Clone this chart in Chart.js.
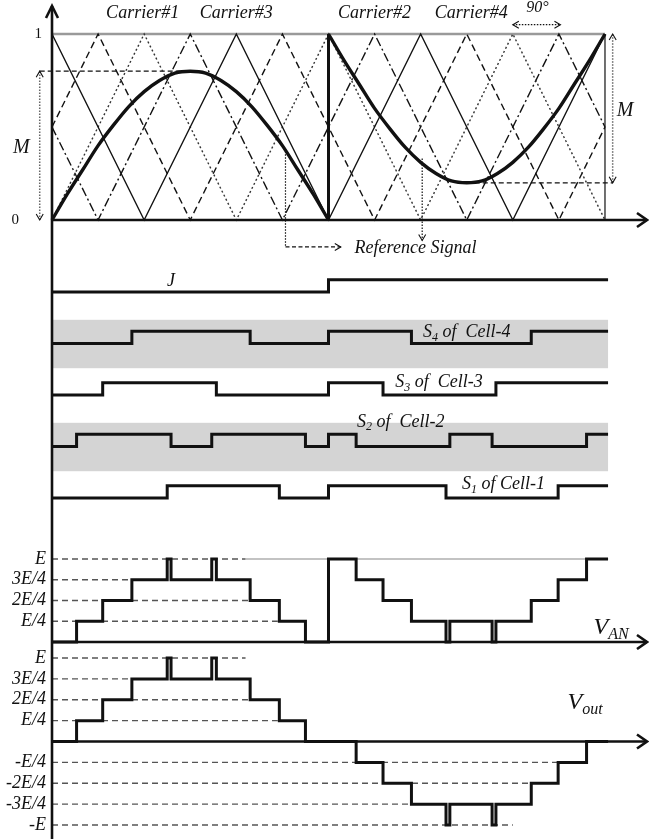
<!DOCTYPE html>
<html>
<head>
<meta charset="utf-8">
<script src="https://cdn.jsdelivr.net/npm/chart.js@4.4.1/dist/chart.umd.min.js"></script>
<style>
  html, body { margin: 0; padding: 0; background: #fff; }
  #wrap { position: relative; width: 649px; height: 839px; overflow: hidden; }
  .pane { position: absolute; left: 0; width: 649px; }
</style>
</head>
<body>
<div id="wrap">
  <div class="pane" style="top:0;height:260px"><canvas id="carriers"></canvas></div>
  <div class="pane" style="top:260px;height:260px"><canvas id="gates"></canvas></div>
  <div class="pane" style="top:520px;height:130px"><canvas id="van"></canvas></div>
  <div class="pane" style="top:650px;height:189px"><canvas id="vout"></canvas></div>
</div>
<script>
// ---- data (angles in degrees of the reference period) ----
const refPosAngles = [0,10,20,30,40,50,60,70,80,90,100,110,120,130,140,150,160,170,180];
const refPos = [0,.14,.27,.40,.51,.61,.69,.75,.79,.80,.79,.75,.69,.61,.51,.40,.27,.14,0];
const refNegAngles = [180,190,200,210,220,230,240,250,260,270,280,290,300,310,320,330,340,350,360];
const refNeg = [1,.86,.73,.60,.49,.39,.31,.25,.21,.20,.21,.25,.31,.39,.49,.60,.73,.86,1];

// triangle carriers, corner points [angle, value]
const carrier1 = [[0,0],[60,1],[120,0],[180,1],[240,0],[300,1],[360,0]];
const carrier2 = [[0,.5],[30,0],[90,1],[150,0],[210,1],[270,0],[330,1],[360,.5]];
const carrier3 = [[0,1],[60,0],[120,1],[180,0],[240,1],[300,0],[360,1]];
const carrier4 = [[0,.5],[30,1],[90,0],[150,1],[210,0],[270,1],[330,0],[360,.5]];

// switching edges (signal starts low, toggles at each edge)
const jEdges  = [180];
const s4Edges = [52,129,180,234,312];
const s3Edges = [33,107,180,215.5,289];
const s2Edges = [16,77.5,104,165,180,198,259,286.5,348];
const s1Edges = [75,148,180,256.5,329.5];

// output levels in quarters of E
const vanAngles = [0,16,33,52,75,77.5,104,107,129,148,165,180,198,215.5,234,256.5,259,286.5,289,312,329.5,348,362];
const vanLevels = [0,1,2,3,4,3,4,3,2,1,0,4,3,2,1,0,1,0,1,2,3,4,4];
const voutAngles = [0,16,33,52,75,77.5,104,107,129,148,165,198,215.5,234,256.5,259,286.5,289,312,329.5,348,362];
const voutLevels = [0,1,2,3,4,3,4,3,2,1,0,-1,-2,-3,-4,-3,-4,-3,-2,-1,0,0];

const vanTickLevels = [4,3,2,1];
const vanTickText = ['E','3E/4','2E/4','E/4'];
const vanGuideEnds = [126,53,128,147];
const voutTickLevels = [4,3,2,1,-1,-2,-3,-4];
const voutTickText = ['E','3E/4','2E/4','E/4','-E/4','-2E/4','-3E/4','-E'];
const voutGuideEnds = [126,53,128,147,345,310,234,300];

// ---- helpers ----
const X_END = 388;     // right edge of plot (arrow tips)
const SIG_END = 362;   // where switching traces stop
const GATE_AMP = 0.24;
const INK = '#111';
const SERIF = '"Liberation Serif", "DejaVu Serif", serif';

const pts = pairs => pairs.map(p => ({x: p[0], y: p[1]}));
const zip = (xs, ys) => xs.map((x, i) => ({x, y: ys[i]}));

function line(data, extra) {
  return Object.assign({
    data, borderColor: INK, borderWidth: 1.3, pointRadius: 0,
    fill: false, tension: 0, clip: false
  }, extra || {});
}

function gateSteps(edges, row) {
  const out = [{x: 0, y: row}];
  edges.forEach((e, i) => out.push({x: e, y: row - ((i + 1) % 2) * GATE_AMP}));
  out.push({x: SIG_END, y: out[out.length - 1].y});
  return out;
}

function drawRich(ctx, text, x, y, size, align, upright) {
  const style = upright ? '' : 'italic ';
  const main = style + size + 'px ' + SERIF;
  const small = style + Math.round(size * 0.66) + 'px ' + SERIF;
  const parts = [];
  text.split(/(_\{[^}]*\})/).forEach(s => {
    if (!s) return;
    if (s.startsWith('_{')) parts.push({t: s.slice(2, -1), sub: true});
    else parts.push({t: s, sub: false});
  });
  let w = 0;
  parts.forEach(p => { ctx.font = p.sub ? small : main; w += ctx.measureText(p.t).width; });
  let cx = align === 'left' ? x : align === 'right' ? x - w : x - w / 2;
  ctx.textAlign = 'left';
  ctx.textBaseline = 'middle';
  ctx.fillStyle = INK;
  parts.forEach(p => {
    ctx.font = p.sub ? small : main;
    ctx.fillText(p.t, cx, p.sub ? y + size * 0.3 : y);
    cx += ctx.measureText(p.t).width;
  });
}

function chevron(ctx, x, y, dir, len, half) {
  const d = {up: [0, -1], down: [0, 1], left: [-1, 0], right: [1, 0]}[dir];
  const px = -d[1], py = d[0];
  ctx.beginPath();
  ctx.moveTo(x - d[0] * len + px * half, y - d[1] * len + py * half);
  ctx.lineTo(x, y);
  ctx.lineTo(x - d[0] * len - px * half, y - d[1] * len - py * half);
  ctx.stroke();
}

function decor(cfg) {
  return {
    id: 'decor',
    beforeDatasetsDraw(chart) {
      const {ctx} = chart, xs = chart.scales.x, ys = chart.scales.y;
      (cfg.bands || []).forEach(b => {
        const y1 = ys.getPixelForValue(b[0]), y2 = ys.getPixelForValue(b[1]);
        const x1 = xs.getPixelForValue(0), x2 = xs.getPixelForValue(b[2]);
        ctx.fillStyle = '#d4d4d4';
        ctx.fillRect(x1, Math.min(y1, y2), x2 - x1, Math.abs(y2 - y1));
      });
    },
    afterDatasetsDraw(chart) {
      const {ctx} = chart, xs = chart.scales.x, ys = chart.scales.y;
      const x0 = xs.getPixelForValue(0);
      ctx.save();
      ctx.strokeStyle = INK;
      ctx.lineWidth = 2.6;
      ctx.beginPath();
      ctx.moveTo(x0, cfg.axisTop || 0);
      ctx.lineTo(x0, chart.height);
      ctx.stroke();
      if (cfg.axisTop) chevron(ctx, x0, cfg.axisTop, 'up', 12, 6);
      if (cfg.baseline !== undefined) {
        const yb = ys.getPixelForValue(cfg.baseline);
        const xe = xs.getPixelForValue(X_END) - 1;
        ctx.beginPath(); ctx.moveTo(x0, yb); ctx.lineTo(xe, yb); ctx.stroke();
        chevron(ctx, xe, yb, 'right', 10, 7);
      }
      ctx.lineWidth = 1.1;
      (cfg.heads || []).forEach(h => {
        chevron(ctx, xs.getPixelForValue(h[0]), ys.getPixelForValue(h[1]), h[2], 6, 3.5);
      });
      (cfg.labels || []).forEach(l => {
        drawRich(ctx, l.t, xs.getPixelForValue(l.x), ys.getPixelForValue(l.y), l.size || 18, l.align || 'center', l.upright);
      });
      ctx.restore();
    }
  };
}

function makeChart(id, datasets, yScale, padding, cfg) {
  return new Chart(document.getElementById(id), {
    type: 'line',
    data: {datasets},
    options: {
      responsive: true,
      maintainAspectRatio: false,
      animation: false,
      events: [],
      layout: {padding: Object.assign({left: 52, right: 1}, padding)},
      plugins: {legend: {display: false}, tooltip: {enabled: false}},
      scales: {
        x: {type: 'linear', min: 0, max: X_END, display: false},
        y: Object.assign({type: 'linear', display: false}, yScale)
      }
    },
    plugins: [decor(cfg)]
  });
}

// ---- carriers + reference ----
const DASH = [7, 4], DASHDOT = [9, 3, 2, 3], DOTTED = [2, 2.5];
makeChart('carriers', [
  line(zip(refPosAngles, refPos), {borderWidth: 3.4, cubicInterpolationMode: 'monotone'}),
  line(zip(refNegAngles, refNeg), {borderWidth: 3.4, cubicInterpolationMode: 'monotone'}),
  line([{x: 180, y: 0}, {x: 180, y: 1}], {borderWidth: 3}),
  line(pts(carrier3), {borderWidth: 1.4}),
  line(pts(carrier1), {borderDash: DOTTED, borderColor: '#333', borderWidth: 1.4}),
  line(pts(carrier2), {borderDash: DASHDOT, borderWidth: 1.4}),
  line(pts(carrier4), {borderDash: DASH, borderWidth: 1.4}),
  line([{x: 0, y: 1}, {x: 360, y: 1}], {borderColor: '#9a9a9a', borderWidth: 2.5}),
  line([{x: 360, y: 0}, {x: 360, y: 1}], {borderWidth: 1.2}),
  // guides
  line([{x: -8, y: .8}, {x: 90, y: .8}], {borderDash: [5, 3], borderWidth: 1.2}),
  line([{x: -8, y: 0}, {x: -8, y: .8}], {borderDash: [1.5, 1.5], borderColor: '#666', borderWidth: 1.5}),
  line([{x: 270, y: .2}, {x: 365, y: .2}], {borderDash: [5, 3], borderWidth: 1.2}),
  line([{x: 365, y: .2}, {x: 365, y: 1}], {borderDash: [1.5, 1.5], borderColor: '#666', borderWidth: 1.5}),
  line([{x: 152, y: .37}, {x: 152, y: -.145}], {borderDash: [1.5, 1.5], borderWidth: 1.2}),
  line([{x: 152, y: -.145}, {x: 188, y: -.145}], {borderDash: [4, 2.5], borderWidth: 1.2}),
  line([{x: 241, y: .33}, {x: 241, y: -.11}], {borderDash: [1.5, 1.5], borderWidth: 1.2}),
  line([{x: 300, y: 1.05}, {x: 331, y: 1.05}], {borderDash: [1.5, 1.5], borderWidth: 1.2})
], {min: 0, max: 1}, {top: 34, bottom: 40}, {
  axisTop: 6,
  baseline: 0,
  heads: [[188, -.145, 'right'], [241, -.11, 'down'], [300, 1.05, 'left'], [331, 1.05, 'right'],
          [365, 1, 'up'], [365, .2, 'down'], [-8, .8, 'up'], [-8, 0, 'down']],
  labels: [
    {t: 'Carrier#1', x: 59, y: 1.11}, {t: 'Carrier#3', x: 120, y: 1.11},
    {t: 'Carrier#2', x: 210, y: 1.11}, {t: 'Carrier#4', x: 273, y: 1.11},
    {t: '90°', x: 316, y: 1.14, size: 16},
    {t: '1', x: -9, y: 1, size: 15, upright: true}, {t: '0', x: -24, y: 0, size: 15, upright: true},
    {t: 'M', x: -20, y: .39, size: 20}, {t: 'M', x: 373, y: .59, size: 20},
    {t: 'Reference Signal', x: 197, y: -.15, size: 18, align: 'left'}
  ]
});

// ---- switching signals ----
makeChart('gates', [
  line(gateSteps(jEdges, 0), {stepped: true, borderWidth: 3}),
  line(gateSteps(s4Edges, 1), {stepped: true, borderWidth: 3}),
  line(gateSteps(s3Edges, 2), {stepped: true, borderWidth: 3}),
  line(gateSteps(s2Edges, 3), {stepped: true, borderWidth: 3}),
  line(gateSteps(s1Edges, 4), {stepped: true, borderWidth: 3})
], {min: 0, max: 4, reverse: true}, {top: 32, bottom: 22}, {
  bands: [[0.54, 1.48, SIG_END], [2.54, 3.48, SIG_END]],
  labels: [
    {t: 'J', x: 77.5, y: -0.2},
    {t: 'S_{4} of  Cell-4', x: 270, y: 0.78},
    {t: 'S_{3} of  Cell-3', x: 252, y: 1.76},
    {t: 'S_{2} of  Cell-2', x: 227, y: 2.52},
    {t: 'S_{1} of Cell-1', x: 294, y: 3.74}
  ]
});

// ---- V_AN ----
const vanGuides = vanTickLevels.map((lv, i) =>
  line([{x: 0, y: lv}, {x: vanGuideEnds[i], y: lv}], {borderDash: [6, 4], borderColor: '#555', borderWidth: 1.3}));
makeChart('van', [
  line(zip(vanAngles, vanLevels), {stepped: true, borderWidth: 3}),
  line([{x: 126, y: 4}, {x: SIG_END, y: 4}], {borderColor: '#888', borderWidth: 1.2})
].concat(vanGuides), {min: 0, max: 4}, {top: 39, bottom: 8}, {
  baseline: 0,
  labels: vanTickLevels.map((lv, i) => ({t: vanTickText[i], x: -3.9, y: lv, align: 'right', size: 18}))
    .concat([{t: 'V_{AN}', x: 364, y: 0.7, size: 24}])
});

// ---- V_out ----
const voutGuides = voutTickLevels.map((lv, i) =>
  line([{x: 0, y: lv}, {x: voutGuideEnds[i], y: lv}], {borderDash: [6, 4], borderColor: '#555', borderWidth: 1.3}));
makeChart('vout', [
  line(zip(voutAngles, voutLevels), {stepped: true, borderWidth: 3})
].concat(voutGuides), {min: -4, max: 4}, {top: 8, bottom: 14}, {
  baseline: 0,
  labels: voutTickLevels.map((lv, i) => ({t: voutTickText[i], x: -3.9, y: lv, align: 'right', size: 18}))
    .concat([{t: 'V_{out}', x: 347, y: 1.85, size: 24}])
});
</script>
</body>
</html>
